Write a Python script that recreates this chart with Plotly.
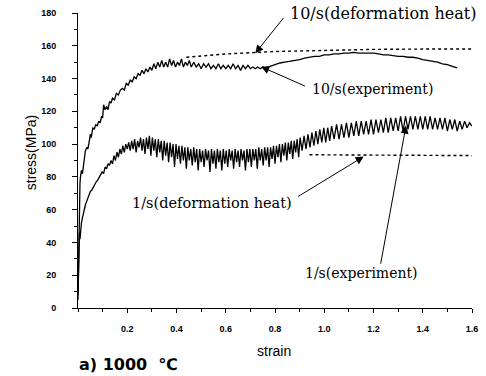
import plotly.graph_objects as go

# ---------------- data ----------------
strain_10_exp = [0.000, 0.002, 0.004, 0.006, 0.008, 0.010, 0.014, 0.018, 0.022, 0.026,
                 0.030, 0.036, 0.040, 0.046, 0.050, 0.054, 0.060, 0.066, 0.072, 0.078,
                 0.084, 0.090, 0.096, 0.100, 0.104, 0.110, 0.116, 0.122, 0.128, 0.134,
                 0.140, 0.148, 0.156, 0.164, 0.172, 0.180, 0.188, 0.196, 0.204, 0.212,
                 0.220, 0.228, 0.236, 0.244, 0.252, 0.260, 0.268, 0.276, 0.284, 0.292,
                 0.300, 0.308, 0.316, 0.324, 0.332, 0.340, 0.348, 0.356, 0.364, 0.372,
                 0.380, 0.388, 0.396, 0.404, 0.412, 0.420, 0.428, 0.436, 0.444, 0.452,
                 0.460, 0.470, 0.480, 0.490, 0.500, 0.510, 0.520, 0.530, 0.540, 0.550,
                 0.560, 0.570, 0.580, 0.590, 0.600, 0.610, 0.620, 0.630, 0.640, 0.650,
                 0.660, 0.670, 0.680, 0.690, 0.700, 0.710, 0.720, 0.730, 0.740, 0.750,
                 0.760, 0.780, 0.800, 0.820, 0.840, 0.860, 0.880, 0.900, 0.920, 0.940,
                 0.960, 0.980, 1.000, 1.020, 1.040, 1.060, 1.080, 1.100, 1.120, 1.140,
                 1.160, 1.180, 1.200, 1.220, 1.240, 1.260, 1.280, 1.300, 1.320, 1.340,
                 1.360, 1.380, 1.400, 1.420, 1.440, 1.460, 1.480, 1.500, 1.520, 1.540]
stress_10_exp = [5, 30, 55, 70, 76, 80, 84, 82, 88, 92,
                 96, 98, 97, 102, 106, 104, 110, 109, 112, 111,
                 114, 113, 117, 116, 124, 121, 123, 121, 126, 125,
                 128, 127, 131, 130, 133, 134, 133, 137, 136, 139,
                 138, 141, 140, 143, 142, 145, 143, 146, 144, 147,
                 145, 149, 146, 150, 147, 151, 147, 150, 147, 152,
                 148, 151, 147, 150, 148, 152, 147, 150, 148, 151,
                 147, 150, 147, 149, 146, 149, 147, 149, 146, 148,
                 146, 149, 146, 148, 146, 148, 146, 149, 146, 148,
                 145, 148, 146, 148, 146, 147, 146, 147, 146, 147,
                 146.5, 147.5, 148.5, 149.5, 150, 150.5, 151, 151.5, 152.5, 153,
                 153.5, 153.5, 154.5, 154.5, 155, 155, 155.5, 155.5, 156, 155.5,
                 155.5, 155.5, 155.5, 155, 154.5, 154.5, 154, 153.5, 153.5, 153,
                 153, 152.5, 151.5, 151, 150.5, 150, 149, 148.5, 147.5, 146.5]

strain_10_heat = [0.44, 0.60, 0.80, 1.00, 1.20, 1.40, 1.60]
stress_10_heat = [153, 155, 156.5, 157.3, 157.8, 158, 158]

strain_1_exp = [0.000, 0.002, 0.004, 0.006, 0.008, 0.010, 0.014, 0.018, 0.022, 0.026,
                0.030, 0.035, 0.040, 0.045, 0.050, 0.056, 0.062, 0.068, 0.074, 0.080,
                0.086, 0.092, 0.098, 0.104, 0.110, 0.116, 0.122, 0.128, 0.134, 0.140,
                0.146, 0.152, 0.158, 0.164, 0.170, 0.176, 0.182, 0.188, 0.194, 0.200,
                0.206, 0.212, 0.218, 0.224, 0.230, 0.236, 0.242, 0.248, 0.254, 0.260,
                0.266, 0.272, 0.278, 0.284, 0.290, 0.296, 0.302, 0.308, 0.314, 0.320,
                0.326, 0.332, 0.338, 0.344, 0.350, 0.356, 0.362, 0.368, 0.374, 0.380,
                0.386, 0.392, 0.398, 0.404, 0.410, 0.416, 0.422, 0.428, 0.434, 0.440,
                0.446, 0.452, 0.458, 0.464, 0.470, 0.476, 0.482, 0.488, 0.494, 0.500,
                0.506, 0.512, 0.518, 0.524, 0.530, 0.536, 0.542, 0.548, 0.554, 0.560,
                0.566, 0.572, 0.578, 0.584, 0.590, 0.596, 0.602, 0.608, 0.614, 0.620,
                0.626, 0.632, 0.638, 0.644, 0.650, 0.656, 0.662, 0.668, 0.674, 0.680,
                0.686, 0.692, 0.698, 0.704, 0.710, 0.716, 0.722, 0.728, 0.734, 0.740,
                0.746, 0.752, 0.758, 0.764, 0.770, 0.776, 0.782, 0.788, 0.794, 0.800,
                0.806, 0.812, 0.818, 0.824, 0.830, 0.836, 0.842, 0.848, 0.854, 0.860,
                0.866, 0.872, 0.878, 0.884, 0.890, 0.896, 0.902, 0.910, 0.918, 0.926,
                0.934, 0.942, 0.950, 0.958, 0.966, 0.974, 0.982, 0.990, 0.998, 1.006,
                1.014, 1.022, 1.030, 1.040, 1.050, 1.060, 1.070, 1.080, 1.090, 1.100,
                1.110, 1.120, 1.130, 1.140, 1.150, 1.160, 1.170, 1.180, 1.190, 1.200,
                1.210, 1.220, 1.230, 1.240, 1.250, 1.260, 1.270, 1.280, 1.290, 1.300,
                1.310, 1.320, 1.330, 1.340, 1.350, 1.360, 1.370, 1.380, 1.390, 1.400,
                1.410, 1.420, 1.430, 1.440, 1.450, 1.460, 1.470, 1.480, 1.490, 1.500,
                1.510, 1.520, 1.530, 1.540, 1.550, 1.560, 1.570, 1.580, 1.590, 1.600]
stress_1_exp = [8, 22, 38, 46, 42, 48, 52, 55, 58, 60,
                63, 65, 67, 69, 71, 72, 74, 75, 77, 78,
                80, 81, 83, 82, 86, 85, 88, 87, 90, 88,
                93, 90, 95, 92, 97, 94, 99, 95, 100, 97,
                101, 96, 102, 97, 103, 95, 102, 98, 104, 96,
                103, 94, 104, 97, 105, 93, 104, 96, 103, 92,
                103, 95, 102, 90, 102, 93, 101, 89, 101, 92,
                100, 86, 100, 91, 99, 88, 99, 90, 98, 85,
                98, 90, 97, 87, 98, 89, 97, 84, 97, 89,
                96, 86, 97, 90, 96, 83, 97, 88, 96, 85,
                97, 89, 96, 84, 97, 88, 96, 86, 97, 90,
                96, 85, 97, 89, 96, 86, 97, 90, 96, 84,
                97, 89, 97, 86, 97, 90, 97, 85, 98, 90,
                97, 87, 98, 90, 98, 86, 98, 91, 99, 88,
                99, 92, 100, 89, 100, 93, 101, 90, 101, 94,
                102, 91, 102, 95, 103, 92, 104, 96, 105, 97,
                106, 98, 107, 99, 108, 100, 109, 101, 110, 101,
                110, 102, 111, 103, 112, 103, 112, 104, 113, 104,
                113, 105, 114, 105, 114, 106, 114, 106, 115, 106,
                115, 107, 115, 107, 116, 107, 116, 108, 116, 108,
                117, 108, 117, 109, 117, 109, 117, 109, 117, 109,
                117, 109, 117, 109, 116, 109, 116, 109, 116, 108,
                115, 109, 115, 108, 114, 109, 114, 110, 113, 111]

strain_1_heat = [0.94, 1.10, 1.30, 1.60]
stress_1_heat = [93.5, 93.3, 93.2, 93.0]

x_tickvals = [0.2, 0.4, 0.6, 0.8, 1.0, 1.2, 1.4, 1.6]
x_ticktext = ["0.2", "0.4", "0.6", "0.8", "1.0", "1.2", "1.4", "1.6"]
y_tickvals = [0, 20, 40, 60, 80, 100, 120, 140, 160, 180]

# ---------------- figure ----------------
fig = go.Figure()
line_exp = dict(color="black", width=1.3)
line_heat = dict(color="black", width=1.4, dash="dot")

fig.add_trace(go.Scatter(x=strain_10_exp, y=stress_10_exp, mode="lines", line=line_exp))
fig.add_trace(go.Scatter(x=strain_10_heat, y=stress_10_heat, mode="lines", line=line_heat))
fig.add_trace(go.Scatter(x=strain_1_exp, y=stress_1_exp, mode="lines", line=line_exp))
fig.add_trace(go.Scatter(x=strain_1_heat, y=stress_1_heat, mode="lines", line=line_heat))

serif = "DejaVu Serif"
arrow = dict(text="", showarrow=True, arrowhead=2, arrowsize=1.6, arrowwidth=1,
             arrowcolor="black", standoff=0, axref="x", ayref="y")
anns = [
    # labels
    dict(x=1.24, y=179.4, text="10/s(deformation heat)", showarrow=False,
         font=dict(family=serif, size=16, color="black")),
    dict(x=1.196, y=133.8, text="10/s(experiment)", showarrow=False,
         font=dict(family=serif, size=14, color="black")),
    dict(x=0.544, y=63.9, text="1/s(deformation heat)", showarrow=False,
         font=dict(family=serif, size=14.5, color="black")),
    dict(x=1.152, y=21.3, text="1/s(experiment)", showarrow=False,
         font=dict(family=serif, size=14, color="black")),
    # arrows
    dict(x=0.72, y=155.5, ax=0.84, ay=178, **arrow),
    dict(x=0.744, y=147.2, ax=0.928, ay=135, **arrow),
    dict(x=1.16, y=92.4, ax=0.888, ay=67.5, **arrow),
    dict(x=1.332, y=111.3, ax=1.228, ay=26.1, **arrow),
    # axis titles
    dict(xref="paper", yref="paper", x=0.4975, y=-0.145, xanchor="center", yanchor="middle",
         text="strain", showarrow=False,
         font=dict(family="Liberation Sans", size=14, color="black")),
    dict(xref="paper", yref="paper", x=-0.12, y=0.527, xanchor="center", yanchor="middle",
         text="stress(MPa)", showarrow=False, textangle=-90,
         font=dict(family="Liberation Sans", size=14, color="black")),
    dict(xref="paper", yref="paper", x=-0.0025, y=-0.193, xanchor="left", yanchor="middle",
         text="<b>a) 1000\u00a0\u00a0℃</b>", showarrow=False,
         font=dict(family="DejaVu Sans", size=16, color="black")),
]

fig.update_layout(
    width=486, height=376,
    margin=dict(l=78, r=8, t=12, b=68),
    plot_bgcolor="white", paper_bgcolor="white",
    showlegend=False,
    annotations=anns,
    font=dict(family="Liberation Sans", color="black"),
)
fig.update_xaxes(
    range=[0, 1.6], tickmode="array", tickvals=x_tickvals, ticktext=x_ticktext,
    showgrid=False, zeroline=False, showline=True, linecolor="black", linewidth=1,
    ticks="outside", ticklen=4, tickcolor="black", ticklabelstandoff=8,
    tickfont=dict(family="Liberation Sans", size=9, color="black", weight="bold"),
    minor=dict(ticks="outside", ticklen=3, tick0=0, dtick=0.1, tickcolor="black", showgrid=False),
)
fig.update_yaxes(
    range=[0, 180], tickmode="array", tickvals=y_tickvals,
    showgrid=False, zeroline=False, showline=True, linecolor="black", linewidth=1,
    ticks="outside", ticklen=5, tickcolor="black", ticklabelstandoff=14,
    tickfont=dict(family="Liberation Sans", size=9, color="black", weight="bold"),
    minor=dict(ticks="outside", ticklen=3, tick0=0, dtick=10, tickcolor="black", showgrid=False),
)

fig.write_html("out.html")
